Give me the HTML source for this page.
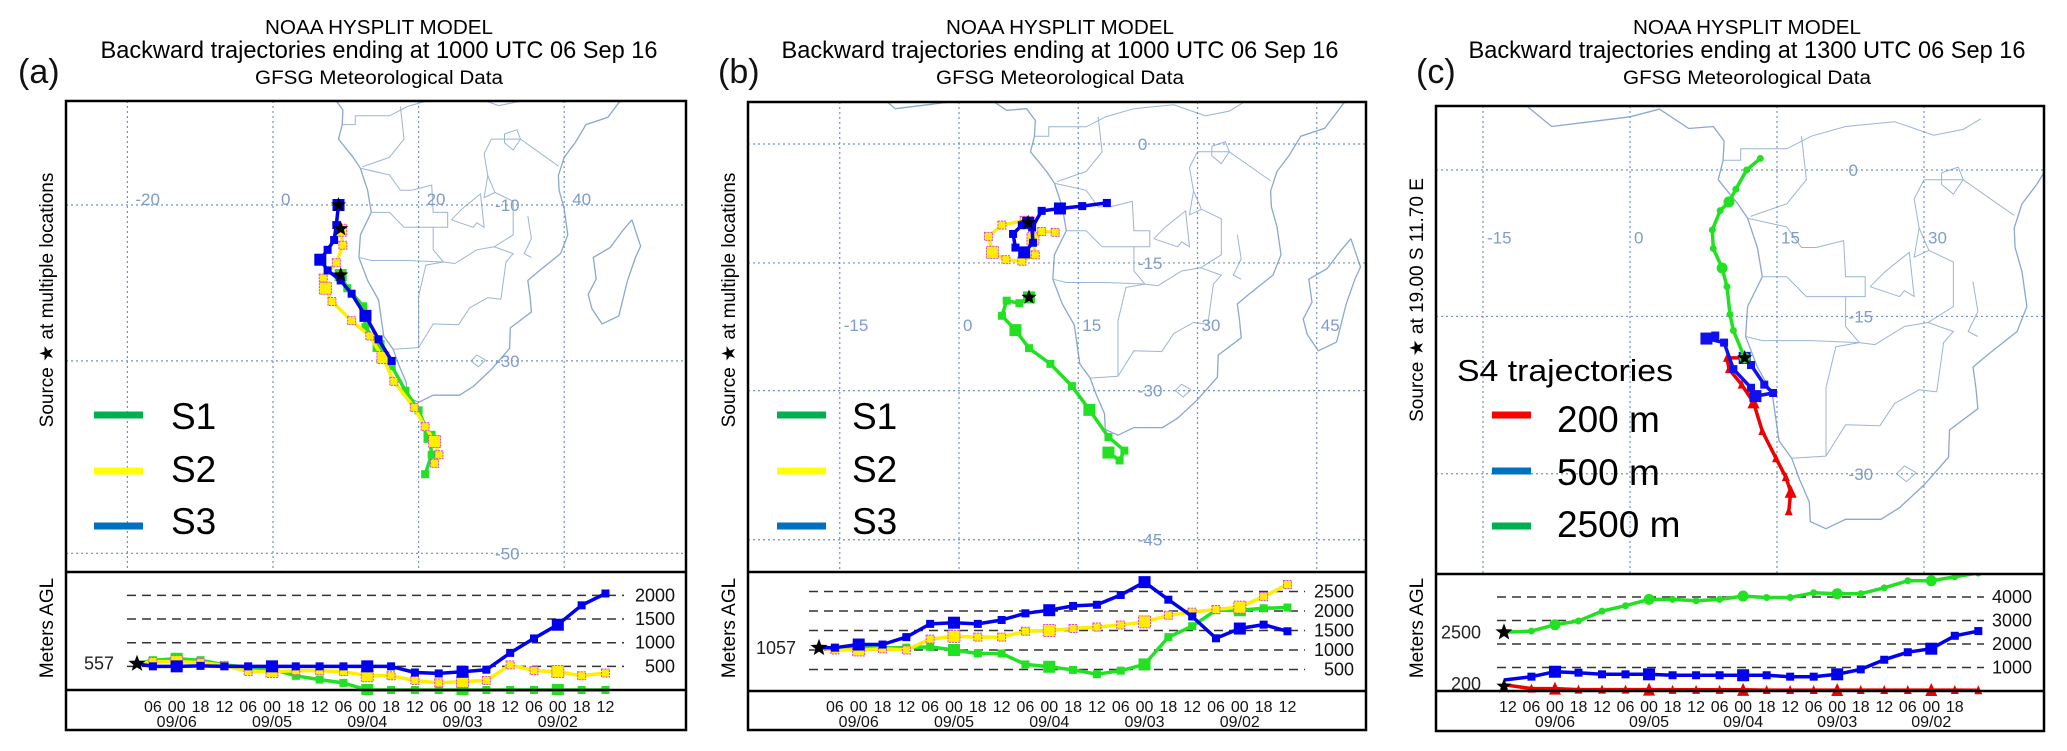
<!DOCTYPE html>
<html><head><meta charset="utf-8"><title>HYSPLIT backward trajectories</title>
<style>
html,body{margin:0;padding:0;background:#fff;}
svg{display:block;font-family:"Liberation Sans",Arial,sans-serif;}
</style></head>
<body>
<svg id="fig" width="2067" height="751" viewBox="0 0 2067 751" xmlns="http://www.w3.org/2000/svg"></svg>
<script>
// ---------------- DATA ----------------
const tickHoursAB = [4,10,16,22,28,34,40,46,52,58,64,70,76,82,88,94,100,106,112,118];
const tickLabelsAB = ["06","00","18","12","06","00","18","12","06","00","18","12","06","00","18","12","06","00","18","12"];
const tickHoursC = [1,7,13,19,25,31,37,43,49,55,61,67,73,79,85,91,97,103,109,115];
const tickLabelsC = ["12","06","00","18","12","06","00","18","12","06","00","18","12","06","00","18","12","06","00","18"];
const dateLabels = ["09/06","09/05","09/04","09/03","09/02"];
const dateHoursAB = [10,34,58,82,106];
const dateHoursC = [13,37,61,85,109];
const seriesHoursAB = [0,4,10,16,22,28,34,40,46,52,58,64,70,76,82,88,94,100,106,112,118];
const seriesHoursC = [0,7,13,19,25,31,37,43,49,55,61,67,73,79,85,91,97,103,109,115,121];
const aS1 = [557,630,660,630,530,480,440,300,220,150,0,0,0,0,0,0,0,0,0,0,0];
const aS2 = [557,600,600,580,520,390,390,410,410,390,300,300,200,150,180,200,530,410,390,300,360];
const aS3 = [557,500,500,510,500,500,500,500,500,500,500,500,370,350,385,430,785,1090,1380,1790,2040];
const aLevels = [500,1000,1500,2000];
const bS1 = [1057,1060,1060,1060,1060,1080,1000,910,910,630,570,490,380,470,630,1330,1610,2020,2020,2070,2090];
const bS2 = [1057,1000,1000,1030,1000,1280,1350,1330,1330,1480,1500,1550,1590,1640,1720,1890,1970,2040,2100,2370,2680];
const bS3 = [1057,1060,1140,1140,1330,1670,1700,1670,1770,1940,2020,2130,2160,2410,2740,2290,1860,1300,1550,1650,1480];
const bLevels = [500,1000,1500,2000,2500];
const c200 = [270,100,100,60,60,60,60,50,50,50,50,40,40,40,40,40,40,40,40,40,30];
const c500 = [470,610,820,780,710,710,710,670,670,670,670,670,610,610,710,920,1330,1650,1800,2350,2550];
const c2500 = [2500,2550,2820,2980,3400,3630,3900,3900,3840,3900,4040,3980,3980,4180,4140,4140,4390,4690,4690,4860,5020];
const cLevels = [1000,2000,3000,4000];
const aTrajS1 = [[9.3,-19.3],[10.2,-21],[12.4,-23.3],[12.7,-25.9],[14.5,-28.2],[16.3,-30.6],[18.2,-33.5],[20,-35.7],[21.5,-38.6],[21.8,-40.5],[20.9,-42.5]];
const aTrajS2 = [[9.3,-13.4],[9.6,-15.4],[8.7,-17.7],[6.9,-19.7],[7.2,-21],[8.1,-22.7],[10.8,-25.1],[13.3,-27],[15.1,-29.6],[16.6,-32.4],[19.4,-35.4],[20.9,-37.5],[22.2,-39.1],[22.8,-40.5],[22.2,-41.4]];
const aTrajS3 = [[9,-10],[8.7,-12.7],[8.4,-14.7],[7.5,-16],[6.5,-17.3],[7.5,-18.7],[9.3,-20],[10.8,-21.7],[12.7,-24.5],[14.5,-27.4],[16.3,-30]];
const aSources = [[9,-10],[9.3,-13.2],[9.3,-19.3]];
const bTrajS1 = [[8.8,-19.2],[7.6,-19.9],[6,-19.6],[5.4,-21.4],[7.1,-23.1],[8.8,-25.2],[11.5,-27],[14.2,-29.5],[16.4,-32.1],[18.8,-35],[20.8,-36.4],[20.2,-37.4],[18.8,-36.6]];
const bTrajS2 = [[8.7,-10],[8.2,-9.7],[5.4,-10.3],[3.7,-11.7],[4.2,-13.7],[5.9,-14.6],[7.9,-14.8],[9.6,-14],[9.3,-12],[10.4,-11.1],[12.1,-11.2]];
const bTrajS3 = [[8.7,-10],[7.9,-10.3],[6.8,-11.4],[7.1,-13.1],[8.2,-13.7],[9.3,-12.5],[9.2,-10.6],[10.4,-8.5],[12.7,-8.2],[15.5,-7.9],[18.6,-7.5]];
const bSources = [[8.7,-10],[8.8,-19.2]];
const cTraj200 = [[11.7,-19.1],[9.9,-19.1],[10.1,-20.2],[11.4,-21.7],[12.6,-23.4],[13.5,-26.1],[14.9,-28.6],[15.9,-30.3],[16.4,-31.6],[16.2,-33.3]];
const cTraj500 = [[11.7,-19.1],[12.35,-19.8],[13.7,-21.7],[14.6,-22.5],[12.8,-22.8],[12.35,-22],[10.55,-20.2],[9.6,-17.6],[7.8,-17.2],[8.7,-16.9]];
const cTraj2500 = [[11.7,-19.1],[10.55,-16.4],[10.2,-14.8],[9.9,-12],[9.4,-10.1],[8.5,-8.1],[8.4,-6.2],[9.2,-4.2],[10.1,-3.3],[10.8,-2],[11.9,0],[13.3,1.2]];
const cSources = [[11.7,-19.1]];
const africaCoast = [[-17,14.7],[-16,12],[-13,9],[-11,7],[-8,4.5],[-4,5],[0,5.5],[3,6.3],[6,4.3],[8.5,4.5],[9.6,3],[9.5,1],[9,-1],[11,-3.5],[12,-5],[13,-8],[13.5,-11],[12,-14],[11.8,-17],[13,-20],[14.5,-22.5],[15.2,-27],[16.5,-28.6],[17.3,-30.5],[18.3,-32.5],[18.4,-34.2],[20,-34.8],[22,-34],[25.6,-34],[27.5,-33],[30,-31],[32.5,-28.5],[32.6,-26],[35.5,-24],[35.3,-22],[35,-20],[36.5,-18.8],[39.5,-16.5],[40.5,-14],[40,-10.5],[39.3,-8],[39.2,-6],[40,-3.5],[41.5,-1.5],[43,1],[46,2],[49,6],[51,10.5],[51,12],[44,10.5],[43,12],[40,15.5]];
const madagascar = [[49.3,-12],[50.5,-15.5],[49.8,-17],[48.7,-20],[47.5,-24.5],[45.2,-25.5],[43.8,-23.6],[43.3,-21.8],[44.4,-19.8],[44,-17],[46.3,-15.7],[48,-13.5],[49.3,-12]];
const borders = [
 [[11.8,-17],[13.5,-17.4],[18.5,-17.4],[23.4,-17.6],[25,-17.8]],
 [[20,-22],[20,-24.7],[20,-28.4]],[[20,-22],[21,-18],[23.4,-17.6]],
 [[16.5,-28.6],[20,-28.4],[22,-25.5],[25.5,-25.6],[27,-23.5],[29.5,-22.2],[31.3,-22.4]],
 [[12,-5],[16,-5.9],[17.5,-8],[19,-8],[21.8,-7.3],[22,-11],[24,-11],[24,-13],[22,-13],[22,-16],[23.4,-17.6]],
 [[13.5,-11],[16,-11],[18,-13],[22,-13]],
 [[25,-17.8],[28,-16],[30.4,-15.6],[33,-14],[33,-9.5],[30.5,-8.3],[29.5,-6],[29,-3],[30,-1],[34,-1],[37.5,-3.5],[39.2,-4.7]],
 [[31.3,-22.4],[32,-17.6],[33,-16.5],[30.4,-15.6]],[[35,-11.5],[35.5,-14.5],[34.5,-16.5],[35.5,-17]],
 [[9.5,1],[11.3,1],[11.3,2.2],[16,2.2],[18.5,3.5],[22,4.5],[27,5],[31,3.6],[34,4.2],[35.8,5.3]],
 [[29.5,-6],[29,-9],[30.5,-8.3]],[[12.3,-4.8],[16,-3.5],[18,-1],[17.5,3.5]],
 [[24.5,-12],[26,-10.5],[28.5,-8.5],[29,-13],[28,-12.4],[27.5,-13],[24.5,-12]],
 [[31.8,-0.3],[33.5,0.3],[34,-1],[33,-2.5],[31.8,-1.5],[31.8,-0.3]],
 [[29.2,-29.9],[28,-29.3],[27.2,-30],[28.2,-30.7],[29.2,-29.9]]
];
// ---------------- DRAWING ----------------
const NS = "http://www.w3.org/2000/svg";
const svg = document.getElementById("fig");
function mk(tag, attrs, parent) {
  const e = document.createElementNS(NS, tag);
  for (const k in attrs) e.setAttribute(k, attrs[k]);
  (parent || svg).appendChild(e);
  return e;
}
function txt(s, attrs, parent) { const e = mk("text", attrs, parent); e.textContent = s; return e; }
function merc(lat) { const p = lat * Math.PI / 180; return -Math.log(Math.tan(Math.PI / 4 + p / 2)); }

const panels = [
 {id:"a", letter:"(a)", lx:18, tcx:379, endTime:"1000",
  L:66,R:686,T:101,MB:572,CB:690,B:730,
  lon0:273,kx:7.28,lat0:205,ky:417,latRef:-10,
  lonLines:[-20,0,20,40], latLines:[-10,-30,-50], lonLabelLat:-9.2, latLabelLon:30.5,
  ylabel:"Source \u2605  at multiple locations",
  xFn:t=>137+3.97*t, yZero:690, yk:0.0473, levels:aLevels, startLabel:"557", startVal:557,
  ticks:tickHoursAB, tickLabels:tickLabelsAB, dateHours:dateHoursAB, sHours:seriesHoursAB,
  dashL:127, dashR:624, levLabelX:675,
  series:[{name:"s1",vals:aS1,col:"#22e022",mk:"sq"},{name:"s2",vals:aS2,col:"#ffee00",mk:"ysq"},{name:"s3",vals:aS3,col:"#0000ee",mk:"sq"}],
  traj:[{name:"s1",pts:aTrajS1,col:"#22e022",mk:"sq"},{name:"s2",pts:aTrajS2,col:"#ffee00",mk:"ysq"},{name:"s3",pts:aTrajS3,col:"#0000ee",mk:"sq"}],
  sources:aSources,
  legend:[["S1","#00b050"],["S2","#ffff00"],["S3","#0070c0"]], legX1:94, legX2:143, legTX:171},
 {id:"b", letter:"(b)", lx:718, tcx:1060, endTime:"1000",
  L:748,R:1366,T:102,MB:572,CB:691,B:730,
  lon0:959,kx:7.95,lat0:144,ky:449,latRef:0,
  lonLines:[-15,0,15,30,45], latLines:[0,-15,-30,-45], lonLabelLat:-22.5, latLabelLon:22.5,
  ylabel:"Source \u2605  at multiple locations",
  xFn:t=>819+3.97*t, yZero:689, yk:0.039, levels:bLevels, startLabel:"1057", startVal:1057,
  ticks:tickHoursAB, tickLabels:tickLabelsAB, dateHours:dateHoursAB, sHours:seriesHoursAB,
  dashL:809, dashR:1305, levLabelX:1354,
  series:[{name:"s1",vals:bS1,col:"#22e022",mk:"sq"},{name:"s2",vals:bS2,col:"#ffee00",mk:"ysq"},{name:"s3",vals:bS3,col:"#0000ee",mk:"sq"}],
  traj:[{name:"s1",pts:bTrajS1,col:"#22e022",mk:"sq"},{name:"s2",pts:bTrajS2,col:"#ffee00",mk:"ysq"},{name:"s3",pts:bTrajS3,col:"#0000ee",mk:"sq"}],
  sources:bSources,
  legend:[["S1","#00b050"],["S2","#ffff00"],["S3","#0070c0"]], legX1:777, legX2:826, legTX:852},
 {id:"c", letter:"(c)", lx:1416, tcx:1747, endTime:"1300",
  L:1436,R:2044,T:106,MB:574,CB:691,B:731,
  lon0:1630,kx:9.8,lat0:170,ky:553,latRef:0,
  lonLines:[-15,0,15,30], latLines:[0,-15,-30], lonLabelLat:-7, latLabelLon:22.3,
  ylabel:"Source \u2605  at  19.00 S  11.70 E",
  xFn:t=>1504+3.92*t, yZero:691, yk:0.0235, levels:cLevels, startLabel:"2500", startVal:2500, startLabel2:"200",
  ticks:tickHoursC, tickLabels:tickLabelsC, dateHours:dateHoursC, sHours:seriesHoursC,
  dashL:1497, dashR:1984, levLabelX:2032,
  series:[{name:"200m",vals:c200,col:"#ee0000",mk:"tri"},{name:"500m",vals:c500,col:"#0000ee",mk:"sq"},{name:"2500m",vals:c2500,col:"#22e022",mk:"dot"}],
  traj:[{name:"200m",pts:cTraj200,col:"#ee0000",mk:"tri"},{name:"500m",pts:cTraj500,col:"#1010ee",mk:"sq"},{name:"2500m",pts:cTraj2500,col:"#22e022",mk:"dot"}],
  sources:cSources,
  legend:[["200 m","#ff0000"],["500 m","#0070c0"],["2500 m","#00b050"]], legX1:1492, legX2:1531, legTX:1557}
];

function marker(g, kind, x, y, col, big) {
  const s = big ? 12 : 8;
  let e;
  if (kind === "sq") e = mk("rect", {x:x-s/2, y:y-s/2, width:s, height:s, fill:col}, g);
  else if (kind === "ysq") e = mk("rect", {x:x-s/2, y:y-s/2, width:s, height:s, fill:col, stroke:"#e040e0", "stroke-width":1, "stroke-dasharray":"2,1"}, g);
  else if (kind === "dot") e = mk("circle", {cx:x, cy:y, r:big?5.5:3.5, fill:col}, g);
  else e = mk("path", {d:`M${x} ${y-s/2-1}L${x+s/2} ${y+s/2}L${x-s/2} ${y+s/2}Z`, fill:col}, g);
  
  
}
function star(g, x, y, r) {
  let d = "";
  for (let i = 0; i < 10; i++) {
    const a = -Math.PI/2 + i*Math.PI/5, rr = i%2 ? r*0.42 : r;
    d += (i ? "L" : "M") + (x + rr*Math.cos(a)).toFixed(1) + " " + (y + rr*Math.sin(a)).toFixed(1);
  }
  const e = mk("path", {d: d + "Z", fill:"#000"}, g);
  
  
}

panels.forEach(P => {
  const g = mk("g", {});
  
  
  const px = lon => P.lon0 + P.kx * lon;
  const py = lat => P.lat0 + P.ky * (merc(lat) - merc(P.latRef));

  const t1 = txt("NOAA HYSPLIT MODEL", {x:P.tcx, y:34, "text-anchor":"middle", "font-size":20, textLength:228, lengthAdjust:"spacingAndGlyphs"}, g);
   
  const t2 = txt("Backward trajectories ending at " + P.endTime + " UTC 06 Sep 16", {x:P.tcx, y:58, "text-anchor":"middle", "font-size":24, textLength:557, lengthAdjust:"spacingAndGlyphs"}, g);
   
  const t3 = txt("GFSG Meteorological Data", {x:P.tcx, y:84, "text-anchor":"middle", "font-size":19, textLength:248, lengthAdjust:"spacingAndGlyphs"}, g);
   
  const pl = txt(P.letter, {x:P.lx, y:83, "font-size":34, fill:"#111"}, g);
   

  const cp = mk("clipPath", {id:"clip" + P.id}, g);
  mk("rect", {x:P.L, y:P.T, width:P.R-P.L, height:P.MB-P.T}, cp);
  const mg = mk("g", {"clip-path":`url(#clip${P.id})`}, g);
   

  const toD = pts => pts.map((p,i)=>(i?"L":"M")+px(p[0]).toFixed(1)+" "+py(p[1]).toFixed(1)).join("");
  const coast = mk("path", {d:toD(africaCoast), fill:"none", stroke:"#8aa8d0", "stroke-width":1.3}, mg);
   
  const mad = mk("path", {d:toD(madagascar), fill:"none", stroke:"#8aa8d0", "stroke-width":1.3}, mg);
   
  borders.forEach(b => {
    const e = mk("path", {d:toD(b), fill:"none", stroke:"#9bb4d6", "stroke-width":1}, mg);
     
  });
  P.lonLines.forEach(lon => {
    const x = px(lon);
    const l = mk("line", {x1:x, x2:x, y1:P.T, y2:P.MB, stroke:"#6f93c4", "stroke-width":1.2, "stroke-dasharray":"2,3"}, mg);
     
    const lb = txt(String(lon), {x:x+ (P.id==="a"?8:4), y:py(P.lonLabelLat)+6, "font-size":17, fill:"#7f9ccb"}, mg);
     
  });
  P.latLines.forEach(lat => {
    const y = py(lat);
    const l = mk("line", {x1:P.L, x2:P.R, y1:y, y2:y, stroke:"#6f93c4", "stroke-width":1.2, "stroke-dasharray":"2,3"}, mg);
     
    const lb = txt(String(lat), {x:px(P.latLabelLon), y:y+6, "font-size":17, fill:"#7f9ccb"}, mg);
     
  });
  P.traj.forEach(tr => {
    const tg = mk("g", {}, mg);
     
    mk("path", {d:toD(tr.pts), fill:"none", stroke:tr.col, "stroke-width":3.5, "stroke-linejoin":"round"}, tg);
    tr.pts.forEach((p,i) => marker(tg, tr.mk, px(p[0]), py(p[1]), tr.col, i%4===0));
  });
  P.sources.forEach(s => star(mg, px(s[0]), py(s[1]), 8));

  P.legend.forEach((lg, i) => {
    const ly = [415,471,526][i], ty = [427,480,532][i];
    const ll = mk("line", {x1:P.legX1, x2:P.legX2, y1:ly, y2:ly, stroke:lg[1], "stroke-width":7}, g);
     
    const lt = txt(lg[0], {x:P.legTX, y:ty+ (P.id==="c"?5:2), "font-size":37, fill:"#000"}, g);
     
  });
  if (P.id === "c") {
    const lt = txt("S4 trajectories", {x:1457, y:381, "font-size":31, fill:"#000", textLength:216, lengthAdjust:"spacingAndGlyphs"}, g);
     
  }

  const yl = txt(P.ylabel, {x:0, y:0, "font-size":19, "text-anchor":"middle", transform:`translate(${P.L-13},300) rotate(-90)`}, g);
   
  const ml = txt("Meters AGL", {x:0, y:0, "font-size":19, "text-anchor":"middle", transform:`translate(${P.L-13},628) rotate(-90)`}, g);
   

  const hy = v => P.yZero - v * P.yk;
  const hg = mk("g", {}, g);
   
  P.levels.forEach(v => {
    const l = mk("line", {x1:P.dashL, x2:P.dashR, y1:hy(v), y2:hy(v), stroke:"#333", "stroke-width":1.5, "stroke-dasharray":"9,6"}, hg);
     
    const t = txt(String(v), {x:P.levLabelX, y:hy(v)+6, "font-size":18, "text-anchor":"end", fill:"#111"}, hg);
     
  });
  const sl = txt(P.startLabel, {x:P.xFn(0)-23, y:hy(P.startVal)+6, "font-size":18, "text-anchor":"end", fill:"#222"}, hg);
   
  if (P.startLabel2) {
    const s2 = txt(P.startLabel2, {x:P.xFn(0)-23, y:P.yZero-1, "font-size":18, "text-anchor":"end", fill:"#222"}, hg);
     
  }
  const hcp = mk("clipPath", {id:"hclip" + P.id}, g);
  mk("rect", {x:P.L, y:P.MB+1, width:P.R-P.L, height:P.CB-P.MB+4}, hcp);
  const sg = mk("g", {"clip-path":`url(#hclip${P.id})`}, hg);
  P.series.forEach(s => {
    const gg = mk("g", {}, sg);
     
    const d = s.vals.map((v,i)=>(i?"L":"M")+P.xFn(P.sHours[i]).toFixed(1)+" "+hy(v).toFixed(1)).join("");
    mk("path", {d:d, fill:"none", stroke:s.col, "stroke-width":3.5, "stroke-linejoin":"round"}, gg);
    s.vals.forEach((v,i) => { if (i>0) marker(gg, s.mk, P.xFn(P.sHours[i]), hy(v), s.col, i%4===2); });
  });
  star(hg, P.xFn(0), hy(P.startVal), 9);
  if (P.startLabel2) star(hg, P.xFn(0), hy(200), 8);
  P.ticks.forEach((t,i) => {
    const tl = txt(P.tickLabels[i], {x:P.xFn(t), y:712, "font-size":16, "text-anchor":"middle", fill:"#111"}, g);
     
  });
  P.dateHours.forEach((t,i) => {
    const dl = txt(dateLabels[i], {x:P.xFn(t), y:727, "font-size":16, "text-anchor":"middle", fill:"#111"}, g);
     
  });

  const fr = mk("rect", {x:P.L, y:P.T, width:P.R-P.L, height:P.B-P.T, fill:"none", stroke:"#000", "stroke-width":2.5}, g);
   
  const s1 = mk("line", {x1:P.L, x2:P.R, y1:P.MB, y2:P.MB, stroke:"#000", "stroke-width":2.5}, g);
   
  const s2 = mk("line", {x1:P.L, x2:P.R, y1:P.CB, y2:P.CB, stroke:"#000", "stroke-width":2.5}, g);
   
});
</script>
</body></html>
